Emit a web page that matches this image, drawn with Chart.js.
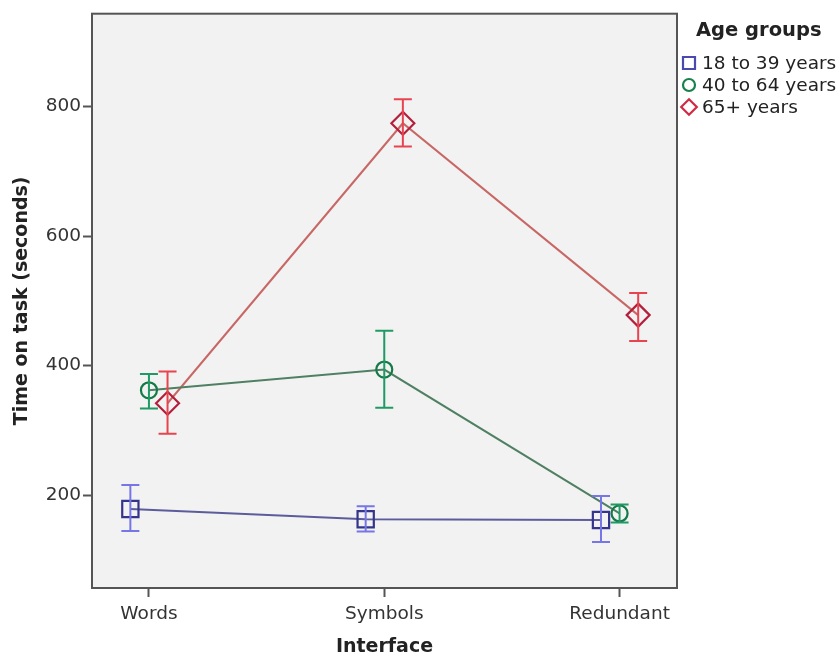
<!DOCTYPE html>
<html><head><meta charset="utf-8">
<script src="https://cdn.jsdelivr.net/npm/chart.js@4/dist/chart.umd.min.js"></script>
<style>html,body{margin:0;padding:0;background:#fff;}canvas{display:block;}</style>
</head><body>
<canvas id="c" width="840" height="658"></canvas>
<script>
// ---- data ----
const categories = ['Words', 'Symbols', 'Redundant'];
const groups = ['18 to 39 years', '40 to 64 years', '65+ years'];
const means18 = [179, 163, 162];
const lower18 = [145, 144, 128];
const upper18 = [216, 183, 199];
const means40 = [362, 394, 172];
const lower40 = [334, 335, 158];
const upper40 = [387, 454, 186];
const means65 = [342, 774, 478];
const lower65 = [295, 738, 438];
const upper65 = [391, 811, 512];
const yTicks = [200, 400, 600, 800];
const xTitle = 'Interface';
const yTitle = 'Time on task (seconds)';
const legendTitle = 'Age groups';

const FONT = '"DejaVu Sans", sans-serif';
const series = [
  {mean: means18, lo: lower18, hi: upper18, style: 'rect', radius: 11.5, marker: '#34348c', line: '#5c5c9c', err: '#7676e6', legend: '#4a4aae', dodge: -0.079},
  {mean: means40, lo: lower40, hi: upper40, style: 'circle', radius: 8, marker: '#157a47', line: '#4f8063', err: '#1f9a64', legend: '#18814b', dodge: 0},
  {mean: means65, lo: lower65, hi: upper65, style: 'rectRot', radius: 11.5, marker: '#b4203c', line: '#c86866', err: '#e84450', legend: '#d22a45', dodge: 0.079}
];

const datasets = series.map((s, k) => ({
  label: groups[k],
  data: s.mean.map((v, i) => ({x: i + s.dodge, y: v})),
  showLine: true,
  borderColor: s.line,
  borderWidth: 2,
  tension: 0,
  fill: false,
  pointStyle: s.style,
  pointRadius: s.radius,
  pointHoverRadius: s.radius,
  pointBorderColor: s.marker,
  pointBackgroundColor: 'rgba(0,0,0,0)',
  pointBorderWidth: 2.2
}));

const boxPlugin = {
  id: 'box',
  beforeDraw(chart) {
    const {ctx, chartArea: a} = chart;
    ctx.save();
    ctx.fillStyle = '#fff';
    ctx.fillRect(0, 0, chart.width, chart.height);
    ctx.fillStyle = '#f2f2f2';
    ctx.fillRect(a.left, a.top, a.right - a.left, a.bottom - a.top);
    ctx.restore();
  },
  afterDraw(chart) {
    const {ctx, chartArea: a} = chart;
    ctx.save();
    ctx.strokeStyle = '#555';
    ctx.lineWidth = 2;
    ctx.strokeRect(a.left, a.top, a.right - a.left, a.bottom - a.top);
    ctx.restore();
  }
};

const errPlugin = {
  id: 'errbars',
  afterDatasetsDraw(chart) {
    const {ctx} = chart;
    const ys = chart.scales.y;
    ctx.save();
    ctx.lineWidth = 2;
    series.forEach((s, k) => {
      const meta = chart.getDatasetMeta(k);
      ctx.strokeStyle = s.err;
      meta.data.forEach((pt, i) => {
        const x = pt.x;
        const y1 = ys.getPixelForValue(s.lo[i]);
        const y2 = ys.getPixelForValue(s.hi[i]);
        ctx.beginPath();
        ctx.moveTo(x, y1); ctx.lineTo(x, y2);
        ctx.moveTo(x - 9, y1); ctx.lineTo(x + 9, y1);
        ctx.moveTo(x - 9, y2); ctx.lineTo(x + 9, y2);
        ctx.stroke();
      });
    });
    ctx.restore();
  }
};

function drawMarker(ctx, style, x, y, r) {
  ctx.beginPath();
  if (style === 'rect') {
    ctx.rect(x - r, y - r, 2 * r, 2 * r);
  } else if (style === 'circle') {
    ctx.arc(x, y, r, 0, Math.PI * 2);
  } else {
    ctx.moveTo(x, y - r * 1.3); ctx.lineTo(x + r * 1.3, y); ctx.lineTo(x, y + r * 1.3); ctx.lineTo(x - r * 1.3, y); ctx.closePath();
  }
  ctx.stroke();
}

const legendPlugin = {
  id: 'customLegend',
  afterDraw(chart) {
    const {ctx} = chart;
    ctx.save();
    ctx.fillStyle = '#222';
    ctx.font = 'bold 19.5px ' + FONT;
    ctx.textAlign = 'left';
    ctx.textBaseline = 'middle';
    ctx.fillText(legendTitle, 696, 31);
    ctx.font = '18.5px ' + FONT;
    const rowY = [63, 85, 107];
    series.forEach((s, k) => {
      ctx.strokeStyle = s.legend;
      ctx.lineWidth = 2.2;
      drawMarker(ctx, s.style, 689, rowY[k], 6);
      ctx.fillStyle = '#222';
      ctx.fillText(groups[k], 702, rowY[k] + 1);
    });
    ctx.restore();
  }
};

new Chart(document.getElementById('c'), {
  type: 'scatter',
  data: {datasets},
  plugins: [boxPlugin, errPlugin, legendPlugin],
  options: {
    responsive: false,
    animation: false,
    events: [],
    layout: {padding: {left: 0, top: 9, right: 163, bottom: 0}},
    plugins: {legend: {display: false}, tooltip: {enabled: false}},
    scales: {
      x: {
        type: 'linear',
        min: -0.242,
        max: 2.244,
        afterFit(scale) { scale.height = 70; },
        afterBuildTicks(scale) { scale.ticks = categories.map((c, i) => ({value: i})); },
        ticks: {
          callback: (v) => categories[v],
          font: {family: FONT, size: 18.5},
          color: '#333',
          padding: 6,
          maxRotation: 0
        },
        grid: {drawOnChartArea: false, drawTicks: true, tickLength: 9, tickColor: '#555', tickWidth: 2},
        border: {display: true, color: '#555', width: 2},
        title: {display: true, text: xTitle, font: {family: FONT, size: 19, weight: 'bold'}, color: '#222', padding: {top: 0, bottom: 0}}
      },
      y: {
        type: 'linear',
        min: 57,
        max: 943,
        afterFit(scale) { scale.width = 92; },
        afterBuildTicks(scale) { scale.ticks = yTicks.map(v => ({value: v})); },
        ticks: {
          font: {family: FONT, size: 18.5},
          color: '#333',
          padding: 2
        },
        grid: {drawOnChartArea: false, drawTicks: true, tickLength: 9, tickColor: '#555', tickWidth: 2},
        border: {display: true, color: '#555', width: 2},
        title: {display: true, text: yTitle, font: {family: FONT, size: 19, weight: 'bold'}, color: '#222', padding: {top: 11, bottom: 0}}
      }
    }
  }
});
</script>
</body></html>
